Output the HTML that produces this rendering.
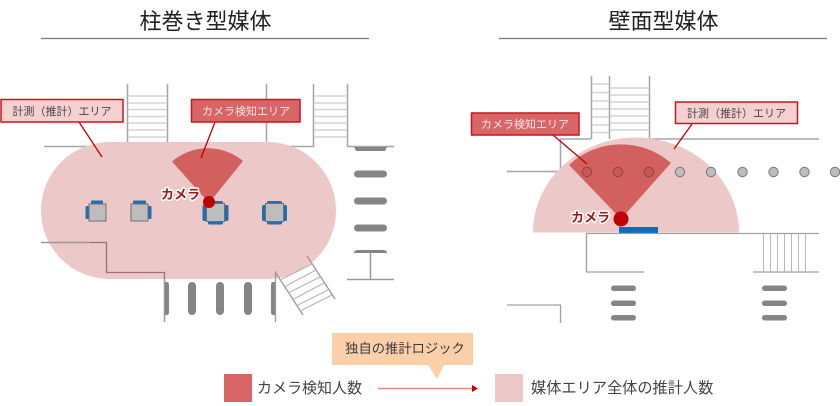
<!DOCTYPE html>
<html><head><meta charset="utf-8"><style>
html,body{margin:0;padding:0;background:#fff}
svg{display:block;filter:blur(0.35px)}
text{font-family:"Liberation Sans","Noto Sans CJK JP",sans-serif}
</style></head><body>
<svg width="840" height="406" viewBox="0 0 840 406" xmlns="http://www.w3.org/2000/svg">
<!-- titles -->
<text x="205.500" y="29" font-size="22" text-anchor="middle" fill="#222">柱巻き型媒体</text>
<text x="663.500" y="29" font-size="22" text-anchor="middle" fill="#222">壁面型媒体</text>
<path d="M41 38.500H369M499 38.500H827" stroke="#777" stroke-width="1.200" fill="none"/>

<!-- LEFT structure under -->
<g fill="none" stroke="#a6a6a6" stroke-width="1.500">
<path d="M127.500 84V146.500H44M167.500 84V146.500"/>
<path d="M266.500 84V146.500H313.500V84M347.500 84V146.500H394"/>
</g>
<g stroke="#d4d4d4" stroke-width="1.500">
<path d="M128 96H167M128 103H167M128 109.500H167M128 116.500H167M128 123H167M128 130H167M128 137H167"/>
<path d="M314 96H347M314 103H347M314 109.500H347M314 116.500H347M314 123H347M314 130H347M314 137H347"/>
</g>
<!-- crosswalk right -->
<g fill="#858585">
<path d="M354 147H387L385 151H356Z"/>
<rect x="354" y="170.500" width="33" height="7" rx="3.500"/>
<rect x="354" y="197.500" width="33" height="7" rx="3.500"/>
<rect x="354" y="224.500" width="33" height="7" rx="3.500"/>
<path d="M354 253Q354 250 358 250H383Q387 250 387 253Z"/>
</g>
<path d="M370.500 253V279.500M347 279.500H394" stroke="#999" stroke-width="1.500" fill="none"/>
<!-- crosswalk bottom -->
<g fill="#858585">
<path d="M165 282H167Q169 282 169 285V312Q169 315 167 315H165Z"/>
<rect x="188" y="282" width="8" height="33" rx="4"/>
<rect x="216" y="282" width="8" height="33" rx="4"/>
<rect x="244" y="282" width="8" height="33" rx="4"/>
<path d="M275 282H273Q271 282 271 285V312Q271 315 273 315H275Z"/>
</g>

<!-- LEFT pill -->
<rect x="41" y="142" width="295" height="137" rx="68.500" fill="#ecc8c8"/>
<!-- walls over pill -->
<path d="M41 242.500H106.500V272.500H164.500V322" fill="none" stroke="#a07070" stroke-width="1.300"/>
<path d="M41 242.500H90M164.500 279V322" fill="none" stroke="#999" stroke-width="1.300"/>
<path d="M275.500 322V272.500L303 315M307 256L335 299" fill="none" stroke="#999" stroke-width="1.300"/>
<g stroke="#b5b5b5" stroke-width="1.200">
<path d="M280 280L312 264M284 287L316 270M288 293L320 277M292 300L324 283M296 306L328 290M300 311L332 295"/>
</g>
<!-- screens -->
<g fill="#1f6fb5">
<rect x="85.500" y="206" width="4.500" height="13" rx="1"/><rect x="91" y="200.500" width="12" height="4.500" rx="1"/>
<rect x="133" y="200.500" width="13" height="4.500" rx="1"/><rect x="147" y="206" width="4.500" height="13" rx="1"/>
<rect x="202.500" y="205" width="5" height="16" rx="1.500"/><rect x="223.500" y="205" width="5" height="16" rx="1.500"/><rect x="208" y="220.500" width="15" height="4" rx="1.500"/><rect x="208" y="201" width="15" height="4" rx="1.500"/>
<rect x="262" y="205" width="5" height="16" rx="1.500"/><rect x="282" y="205" width="5" height="16" rx="1.500"/><rect x="267" y="220.500" width="15" height="4" rx="1.500"/><rect x="267" y="201" width="15" height="4" rx="1.500"/>
</g>
<g fill="#bdbdbd" stroke="#7a6a6a" stroke-width="1">
<rect x="89" y="204" width="17" height="17"/>
<rect x="131" y="204" width="17" height="17"/>
<rect x="206.500" y="203.500" width="18" height="18"/>
<rect x="265.500" y="203.500" width="18" height="18"/>
</g>
<!-- sector left -->
<path d="M209 203L172 161.500A55 55 0 0 1 243 161Z" fill="#d1605f"/>
<circle cx="209" cy="202" r="6" fill="#c00000"/>
<text x="161" y="199" font-size="13" font-weight="700" fill="#a01818" stroke="#fff" stroke-width="3" paint-order="stroke" stroke-linejoin="round">カメラ</text>
<!-- left labels -->
<path d="M79 122L102 157M215 122L201 158" stroke="#c00000" stroke-width="1.300" fill="none"/>
<rect x="1" y="99.500" width="122" height="22.500" fill="#f5d0d0" stroke="#c8161d" stroke-width="1.500"/>
<text x="62" y="115" font-size="11" text-anchor="middle" fill="#444">計測（推計）エリア</text>
<rect x="191.500" y="99.500" width="108.500" height="22.500" fill="#d96666" stroke="#c8161d" stroke-width="1.500"/>
<text x="246" y="115" font-size="11" text-anchor="middle" fill="#f8e4e4">カメラ検知エリア</text>

<!-- RIGHT structure -->
<g fill="none" stroke="#a6a6a6" stroke-width="1.500">
<path d="M591.500 76V139M609.500 76V139M649.500 76V139H819"/>
<path d="M507 171.500H560.500V139H591"/>
</g>
<g stroke="#d4d4d4" stroke-width="1.500">
<path d="M592 84H609M592 92.500H609M592 101H609M592 109H609M592 117H609M592 125H609M592 132.500H609"/>
<path d="M610 88H649M610 95H649M610 102H649M610 109H649M610 116H649M610 123H649M610 130H649"/>
</g>
<!-- half circle -->
<path d="M533 232.500A103 95 0 0 1 739 232.500Z" fill="#ecc8c8"/>
<!-- gray circles -->
<g fill="#bdbdbd" stroke="#777" stroke-width="1">
<circle cx="680" cy="172" r="4.700"/><circle cx="711" cy="172" r="4.700"/><circle cx="742.500" cy="172" r="4.700"/>
<circle cx="773.500" cy="172" r="4.700"/><circle cx="804.500" cy="172" r="4.700"/><circle cx="835" cy="172" r="4.700"/>
</g>
<path d="M621 219L569 165A76 76 0 0 1 671 163Z" fill="#d1605f"/>
<g fill="#c25a5a" stroke="#9a3f3f" stroke-width="1">
<circle cx="587" cy="172" r="4.700"/><circle cx="618" cy="172" r="4.700"/><circle cx="649" cy="172" r="4.700"/>
</g>
<rect x="619" y="227" width="39" height="6" fill="#0f6cbd"/>
<circle cx="621" cy="219" r="7.500" fill="#c00000"/>
<text x="571" y="222" font-size="13" font-weight="700" fill="#a01818" stroke="#fff" stroke-width="3" paint-order="stroke" stroke-linejoin="round">カメラ</text>
<!-- bottom-right structure -->
<path d="M819 233.500H586.500V272H644M753 272H819M560.500 323V305H507" fill="none" stroke="#a0a0a0" stroke-width="1.300"/>
<path d="M763.500 234V273M770.500 234V273M777.500 234V273M784.500 234V273M791.500 234V273M798.500 234V273M805.500 234V273" stroke="#b8b8b8" stroke-width="1"/>
<g fill="#858585">
<rect x="611" y="285.500" width="25" height="5.500" rx="2.700"/><rect x="611" y="300.500" width="25" height="5.500" rx="2.700"/><rect x="611" y="315" width="25" height="5.500" rx="2.700"/>
<rect x="762" y="285.500" width="25" height="5.500" rx="2.700"/><rect x="762" y="300.500" width="25" height="5.500" rx="2.700"/><rect x="762" y="315" width="25" height="5.500" rx="2.700"/>
</g>
<!-- right labels -->
<path d="M553 135L587 164M692 124L674 149" stroke="#c00000" stroke-width="1.300" fill="none"/>
<rect x="471.500" y="113" width="107.500" height="22" fill="#d96666" stroke="#c8161d" stroke-width="1.500"/>
<text x="525" y="128" font-size="11" text-anchor="middle" fill="#f8e4e4">カメラ検知エリア</text>
<rect x="675.500" y="102" width="122" height="21.500" fill="#f5d0d0" stroke="#c8161d" stroke-width="1.500"/>
<text x="736.500" y="117" font-size="11" text-anchor="middle" fill="#444">計測（推計）エリア</text>

<!-- legend -->
<path d="M332 333H473V365H444L437 379L428 365H332Z" fill="#fbd0a9"/>
<text x="405" y="353" font-size="13.300" text-anchor="middle" fill="#3a3a3a">独自の推計ロジック</text>
<rect x="224" y="374" width="28" height="28" fill="#d96666"/>
<text x="257" y="393" font-size="15" fill="#444">カメラ検知人数</text>
<path d="M378 388.500H473" stroke="#ea8a8a" stroke-width="1.500"/>
<path d="M472 385L478 388.500L472 392Z" fill="#c00000"/>
<rect x="495" y="374" width="28" height="28" fill="#ecc8c8"/>
<text x="531" y="393" font-size="15.200" fill="#444">媒体エリア全体の推計人数</text>
</svg>
</body></html>
